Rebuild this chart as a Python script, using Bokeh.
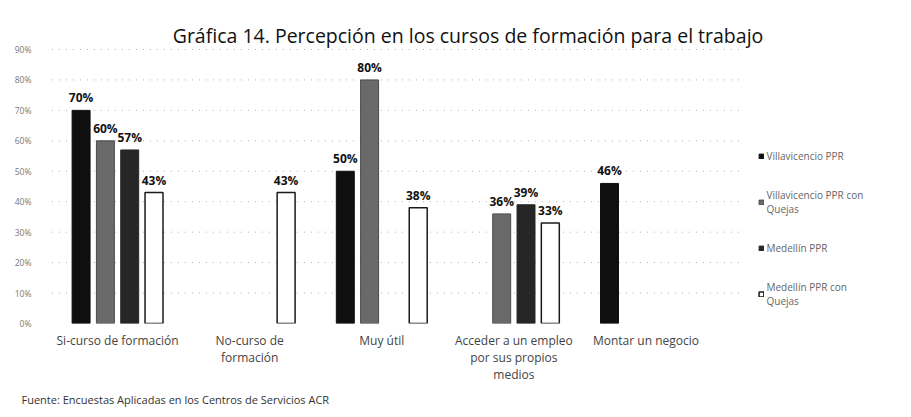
from bokeh.plotting import figure
from bokeh.models import (Range1d, FixedTicker, PrintfTickFormatter, Title, Label,
                          ColumnDataSource, Legend, LegendItem)
from bokeh.core.properties import value
from bokeh.embed import file_html
from bokeh.resources import INLINE

# ---- data ----
title_text = "Gráfica 14. Percepción en los cursos de formación para el trabajo"
source_text = "Fuente: Encuestas  Aplicadas en los Centros de Servicios ACR"
categories = [
    "Si-curso de formación",
    "No-curso de\nformación",
    "Muy útil",
    "Acceder a un empleo\npor sus propios\nmedios",
    "Montar un negocio",
]
series_names = [
    "Villavicencio PPR",
    "Villavicencio PPR con\nQuejas",
    "Medellín PPR",
    "Medellín PPR con\nQuejas",
]
villavicencio_ppr = [70, None, 50, None, 46]
villavicencio_quejas = [60, None, 80, 36, None]
medellin_ppr = [57, None, None, 39, None]
medellin_quejas = [43, 43, 38, 33, None]
series_values = [villavicencio_ppr, villavicencio_quejas, medellin_ppr, medellin_quejas]
y_ticks = [0, 10, 20, 30, 40, 50, 60, 70, 80, 90]

# ---- styles ----
fills = ["#0f0f0f", "#6a6a6a", "#262626", "#ffffff"]
lines = ["#0f0f0f", "#4a4a4a", "#262626", "#1a1a1a"]
offsets = [-0.276, -0.092, 0.092, 0.276]
bar_w = 0.136
FONT = "Open Sans"
FX, FY = 51.5, 323  # frame left / bottom in page pixels

# frame: x 51.5..911, y 12..323 ; 132.1 px per category, 3.044 px per %
p = figure(width=911, height=417, output_backend="svg", toolbar_location=None,
           x_range=Range1d(-0.5, 6.01), y_range=Range1d(0, 102.15),
           min_border_left=51, min_border_right=0, min_border_top=12,
           min_border_bottom=94)
p.outline_line_color = None
p.background_fill_color = "white"
p.border_fill_color = "white"

# dotted gridlines over the plot area only
grid_src = ColumnDataSource(dict(y=y_ticks[1:]))
p.segment(x0=-0.55, x1=4.72, y0="y", y1="y", source=grid_src,
          line_color="#9a9a9a", line_dash="1 6", line_width=1, line_alpha=0.8)

bar_renderers = []
for i, vals in enumerate(series_values):
    xs, ys, labs = [], [], []
    for c, v in enumerate(vals):
        if v is None:
            continue
        xs.append(c + offsets[i])
        ys.append(v)
        labs.append(f"{v}%")
    src = ColumnDataSource(dict(x=xs, top=ys, lab=labs))
    r = p.vbar(x="x", top="top", bottom=0, width=bar_w, source=src,
               fill_color=fills[i], line_color=lines[i],
               line_width=1.5 if i == 3 else 1)
    bar_renderers.append(r)
    p.text(x="x", y="top", text="lab", source=src, text_align="center",
           text_baseline="bottom", y_offset=-4, text_font=value(FONT),
           text_font_size="12px", text_font_style="bold", text_color="#111111")

# axes
for ax in (p.xaxis, p.yaxis):
    ax.axis_line_color = None
    ax.major_tick_line_color = None
    ax.minor_tick_line_color = None
    ax.major_tick_out = 0
    ax.major_tick_in = 0
    ax.minor_tick_out = 0
    ax.minor_tick_in = 0

p.yaxis.ticker = FixedTicker(ticks=y_ticks)
p.yaxis.formatter = PrintfTickFormatter(format="%d%%")
p.yaxis.major_label_text_font = FONT
p.yaxis.major_label_text_font_size = "8.5px"
p.yaxis.major_label_text_color = "#777777"
p.yaxis.major_label_standoff = 20

p.xaxis.ticker = FixedTicker(ticks=list(range(len(categories))))
p.xaxis.major_label_overrides = {i: c for i, c in enumerate(categories)}
p.xaxis.major_label_text_font = FONT
p.xaxis.major_label_text_font_size = "12px"
p.xaxis.major_label_text_color = "#444444"
p.xaxis.major_label_text_line_height = 1.0
p.xaxis.major_label_standoff = 8

p.xgrid.grid_line_color = None
p.ygrid.grid_line_color = None

# title (frame-relative screen coords)
p.add_layout(Label(x=468 - FX, y=FY - 35, x_units="screen", y_units="screen",
                   text=title_text, text_align="center", text_baseline="middle",
                   text_font=FONT, text_font_size="19.5px", text_color="#111111"))

# source note
p.add_layout(Title(text=source_text, align="left", offset=-30,
                   text_font=FONT, text_font_size="11px", text_font_style="normal",
                   text_color="#333333", standoff=8), "below")

# legend
items = [LegendItem(label=series_names[i], renderers=[bar_renderers[i]])
         for i in range(len(series_names))]
legend = Legend(items=items, location=(758 - FX, 15), orientation="vertical",
                border_line_color=None, background_fill_alpha=0,
                label_text_font=FONT, label_text_font_size="10px",
                label_text_color="#666666",
                glyph_width=6, glyph_height=6, label_standoff=3,
                spacing=24, padding=0, margin=0, label_height=16)
p.add_layout(legend)

open("out.html", "w").write(file_html(p, INLINE))
